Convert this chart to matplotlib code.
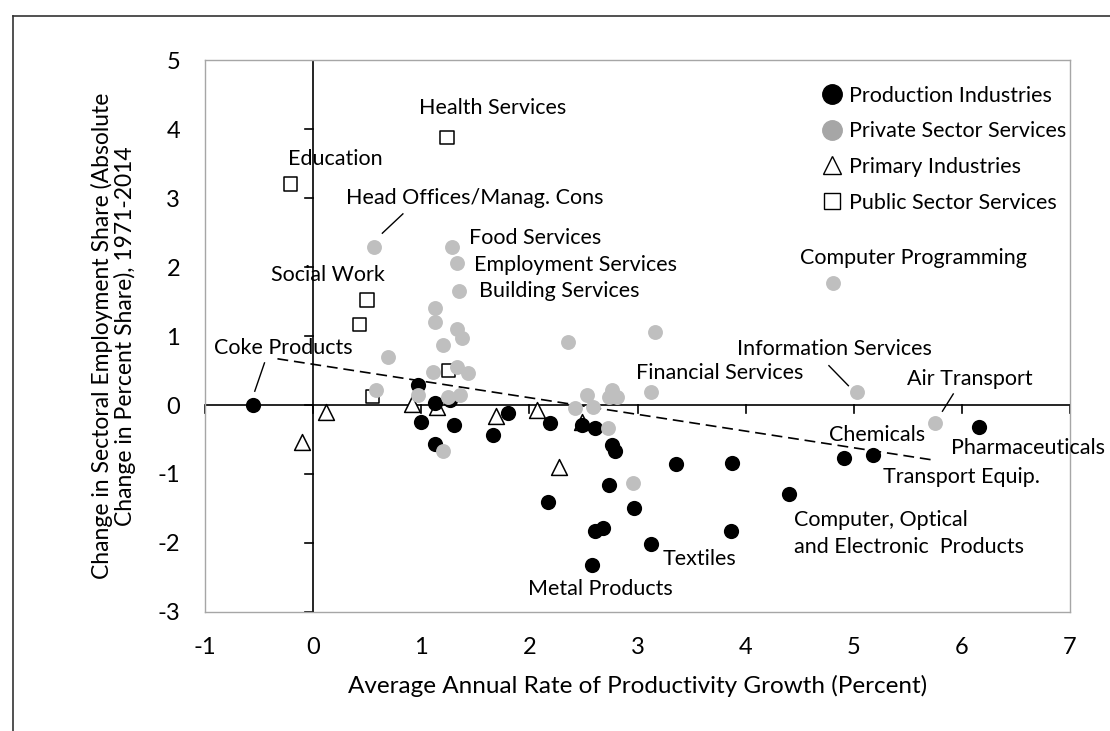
import numpy as np
import matplotlib.pyplot as plt
from matplotlib.lines import Line2D

plt.rcParams['font.family'] = ['Lato', 'DejaVu Sans']
plt.rcParams['axes.unicode_minus'] = False

# productivity growth (x) vs change in employment share (y), by sector group
prod_x = [-0.56, 0.97, 1.13, 1.27, 1.00, 1.30, 1.13, 1.66, 1.80, 2.19, 2.49, 2.61, 2.76, 2.79,
          2.74, 3.36, 2.17, 2.97, 2.61, 2.68, 3.12, 2.58, 3.87, 3.86, 4.40, 4.91, 5.18, 6.16]
prod_y = [0.00, 0.29, 0.03, 0.07, -0.24, -0.29, -0.57, -0.44, -0.12, -0.26, -0.29, -0.33, -0.58, -0.66,
          -1.16, -0.85, -1.40, -1.49, -1.83, -1.78, -2.01, -2.32, -0.84, -1.83, -1.29, -0.77, -0.73, -0.32]

priv_x = [0.56, 1.28, 1.33, 1.35, 1.13, 1.13, 1.33, 1.38, 1.20, 0.69, 0.58, 1.11, 1.33, 1.43, 0.97, 1.25,
          1.36, 1.20, 2.36, 3.16, 2.53, 2.42, 2.59, 2.76, 2.81, 2.74, 3.12, 2.73, 2.96, 4.81, 5.03, 5.75]
priv_y = [2.29, 2.29, 2.06, 1.65, 1.40, 1.20, 1.10, 0.97, 0.87, 0.70, 0.22, 0.48, 0.55, 0.46, 0.14, 0.12,
          0.14, -0.66, 0.92, 1.06, 0.15, -0.04, -0.03, 0.22, 0.12, 0.12, 0.19, -0.33, -1.13, 1.77, 0.19, -0.26]

prim_x = [-0.10, 0.12, 0.91, 1.15, 1.69, 2.07, 2.27, 2.49]
prim_y = [-0.53, -0.10, 0.01, -0.03, -0.16, -0.07, -0.90, -0.25]

pub_x = [-0.21, 0.43, 0.50, 0.55, 1.24, 1.25]
pub_y = [3.20, 1.17, 1.52, 0.12, 3.88, 0.50]

# linear trend
trend_x = [-0.33, 5.75]
trend_slope = -0.242
trend_icpt = 0.59

x_ticks = [-1, 0, 1, 2, 3, 4, 5, 6, 7]
y_ticks = [-3, -2, -1, 0, 1, 2, 3, 4, 5]

series_names = ["Production Industries", "Private Sector Services", "Primary Industries",
                "Public Sector Services"]

# industry labels: text, left x, centre y
label_text = ["Health Services", "Education", "Head Offices/Manag. Cons", "Food Services",
              "Employment Services", "Building Services", "Social Work", "Computer Programming",
              "Coke Products", "Information Services", "Financial Services", "Air Transport",
              "Chemicals", "Pharmaceuticals", "Transport Equip.", "Computer, Optical",
              "and Electronic  Products", "Textiles", "Metal Products"]
label_x = [0.98, -0.23, 0.30, 1.44, 1.49, 1.53, -0.39, 4.50, -0.92, 3.92, 2.99, 5.49,
           4.77, 5.90, 5.27, 4.45, 4.45, 3.23, 1.99]
label_y = [4.30, 3.57, 3.00, 2.42, 2.03, 1.65, 1.88, 2.13, 0.83, 0.81, 0.46, 0.38,
           -0.43, -0.62, -1.04, -1.67, -2.06, -2.23, -2.67]

# leader lines from point to label
leader_x0 = [0.64, -0.54, 4.95, 5.82]
leader_y0 = [2.49, 0.20, 0.28, -0.09]
leader_x1 = [0.83, -0.45, 4.77, 5.92]
leader_y1 = [2.77, 0.61, 0.57, 0.16]

fs = 15.5

fig = plt.figure(figsize=(11.1, 7.31), dpi=100)
ax = fig.add_axes([0.1847, 0.1628, 0.7793, 0.7551])

ax.scatter(prim_x, prim_y, marker='^', s=130, facecolor='white', edgecolor='black', linewidth=1.1, zorder=3)
ax.scatter(pub_x, pub_y, marker='s', s=95, facecolor='none', edgecolor='black', linewidth=1.1, zorder=3)
ax.scatter(prod_x, prod_y, marker='o', s=120, color='black', linewidth=0, zorder=4)
ax.scatter(priv_x, priv_y, marker='o', s=115, color='#bfbfbf', linewidth=0, zorder=5)

tx = np.array(trend_x)
ax.plot(tx, trend_icpt + trend_slope * tx, color='black', lw=1.2, ls=(0, (6.5, 3.5)), zorder=2)

# axes through the origin with their own tick marks
ax.axhline(0, color='black', lw=1.2, zorder=1)
ax.axvline(0, color='black', lw=1.2, zorder=1)
for t in x_ticks:
    ax.plot([t, t], [0, -0.12], color='black', lw=1.2, zorder=1, clip_on=False)
for t in y_ticks:
    ax.plot([-0.075, 0], [t, t], color='black', lw=1.2, zorder=1)

ax.set_xlim(-1, 7)
ax.set_ylim(-3, 5)
ax.set_xticks(x_ticks)
ax.set_yticks(y_ticks)
ax.tick_params(axis='x', length=0, labelsize=17, pad=18)
ax.tick_params(axis='y', length=0, labelsize=17, pad=18)
for sp in ax.spines.values():
    sp.set_color('#a6a6a6')
    sp.set_linewidth(1)

ax.set_xlabel("Average Annual Rate of Productivity Growth (Percent)", fontsize=17.5, labelpad=12)
ax.set_ylabel("Change in Sectoral Employment Share (Absolute\nChange in Percent Share), 1971-2014",
              fontsize=16.5, labelpad=15, linespacing=1.1)

for text, lx, ly in zip(label_text, label_x, label_y):
    ax.text(lx, ly, text, fontsize=fs, ha='left', va='center', zorder=6)
for x0, y0, x1, y1 in zip(leader_x0, leader_y0, leader_x1, leader_y1):
    ax.plot([x0, x1], [y0, y1], color='black', lw=1, zorder=6)

handles = [
    Line2D([], [], marker='o', ls='', color='black', markersize=14),
    Line2D([], [], marker='o', ls='', color='#a6a6a6', markersize=14),
    Line2D([], [], marker='^', ls='', markerfacecolor='white', markeredgecolor='black', markersize=13),
    Line2D([], [], marker='s', ls='', markerfacecolor='white', markeredgecolor='black', markersize=11.5),
]
ax.legend(handles, series_names, loc='upper left', bbox_to_anchor=(0.691, 0.985), frameon=False,
          fontsize=fs, handletextpad=0.25, labelspacing=0.73, handlelength=1.1, borderpad=0.3)

# outer border (left and top edges)
fig.add_artist(Line2D([0.0117, 0.0117], [0.978, 0.0], transform=fig.transFigure, color='#333333', lw=1.2))
fig.add_artist(Line2D([0.0117, 1.0], [0.978, 0.978], transform=fig.transFigure, color='#333333', lw=1.2))

fig.savefig('out.png', dpi=100)
